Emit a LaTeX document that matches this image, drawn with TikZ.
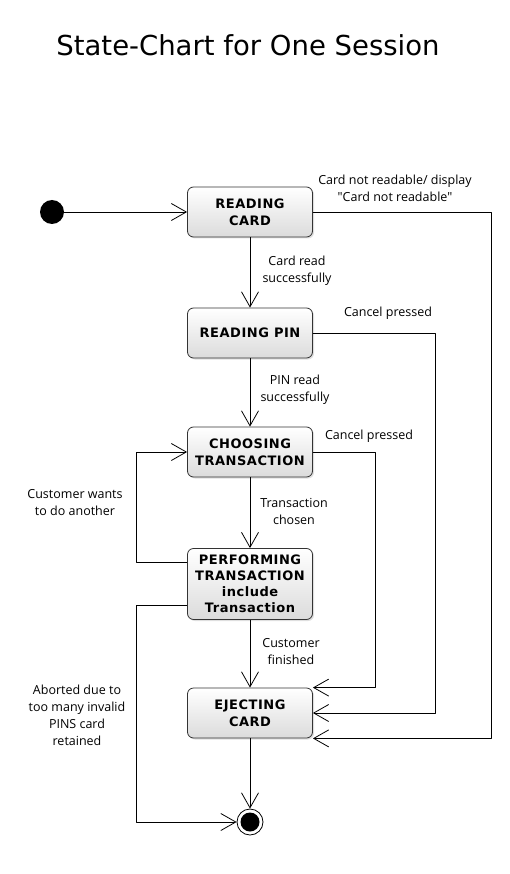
\documentclass[tikz,border=0pt]{standalone}
\usepackage{fontspec}
\setmainfont{Open Sans}[Ligatures=TeXOff]
\newfontfamily\titlefont{DejaVu Sans}
\newfontfamily\boxfont{DejaVu Sans}[LetterSpace=4]
\usetikzlibrary{arrows.meta,shadows}
\begin{document}
\begin{tikzpicture}[x=1pt,y=-1pt,>={Straight Barb[length=15pt,width=17pt]},line join=round,line width=0.8pt,
	state/.style={draw=black!80,rounded corners=6pt,top color=white,bottom color=black!14,minimum width=125pt,minimum height=50pt,inner sep=2pt,align=center,font=\boxfont\bfseries\fontsize{13}{17}\selectfont,drop shadow={opacity=0.25,shadow xshift=1.5pt,shadow yshift=-1.5pt}},
	lbl/.style={align=center,font=\fontsize{12.5}{17}\selectfont}]
	\useasboundingbox (0,0) rectangle (509,874);
	\node[font=\titlefont\fontsize{27.5}{33}\selectfont] (title) at (248,45) {State-Chart for One Session};
	% states
	\node[circle,fill=black,minimum size=24pt,inner sep=0pt] (init) at (52,212) {};
	\node[state] (rc) at (250,212) {READING\\CARD};
	\node[state] (rp) at (250,333) {READING PIN};
	\node[state] (ct) at (250,452) {CHOOSING\\TRANSACTION};
	\node[state,minimum height=71pt,font=\boxfont\bfseries\fontsize{13}{16}\selectfont] (pt) at (250,584) {PERFORMING\\TRANSACTION\\include\\Transaction};
	\node[state] (ec) at (250,713) {EJECTING\\CARD};
	\node[circle,draw,minimum size=26pt,inner sep=0pt,fill=white] (final) at (250,822) {};
	\fill (final.center) circle (9.5);
	% transitions
	\draw[->] (init) -- (rc);
	\draw[->] (rc) -- (rp);
	\draw[->] (rp) -- (ct);
	\draw[->] (ct) -- (pt);
	\draw[->] (pt) -- (ec);
	\draw[->] (ec) -- (final);
	\draw[->] (rc.east) -- ++(178,0) |- (ec.south east);
	\draw[->] (rp.east) -- ++(122,0) |- (ec.east);
	\draw[->] (ct.east) -- ++(62,0) |- (ec.north east);
	\draw[->] ([yshift=22pt]pt.west) -- ++(-51,0) |- (ct.west);
	\draw[->] ([yshift=-21pt]pt.west) -- ++(-51,0) |- (final.west);
	% labels
	\node[lbl] (l1) at (395,188) {Card not readable/ display\\"Card not readable"};
	\node[lbl] (l2) at (297,271) {Card read\\successfully};
	\node[lbl] (l3) at (388,313) {Cancel pressed};
	\node[lbl] (l4) at (295,390) {PIN read\\successfully};
	\node[lbl] (l5) at (369,436) {Cancel pressed};
	\node[lbl] (l6) at (75,503) {Customer wants\\to do another};
	\node[lbl] (l7) at (294,511) {Transaction\\chosen};
	\node[lbl] (l8) at (291,652) {Customer\\finished};
	\node[lbl] (l9) at (77,715) {Aborted due to\\too many invalid\\PINS card\\retained};
\end{tikzpicture}
\end{document}
